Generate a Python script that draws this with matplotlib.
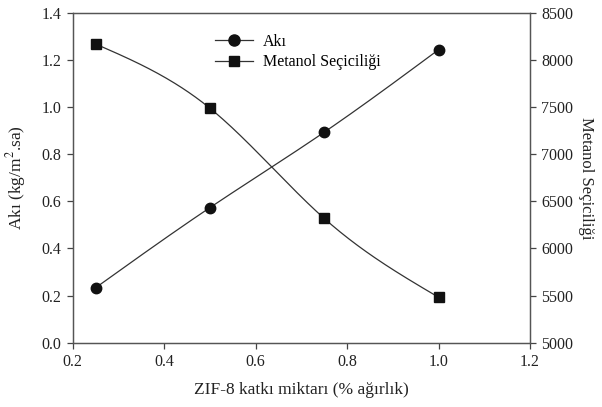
import numpy as np
import matplotlib
matplotlib.use("Agg")
from matplotlib import pyplot as plt
from matplotlib.lines import Line2D

plt.rcParams['font.family'] = ['Liberation Serif', 'DejaVu Serif']
plt.rcParams['mathtext.fontset'] = 'stix'

# ZIF-8 loading (% wt) and measured results
zif8 = [0.25, 0.50, 0.75, 1.00]
flux = [0.233, 0.573, 0.893, 1.243]
selectivity = [8168, 7487, 6318, 5482]


def smooth(x, y, n=200):
    # natural cubic spline through the measured points
    x = np.asarray(x, float)
    y = np.asarray(y, float)
    h = np.diff(x)
    m = len(x)
    A = np.zeros((m, m))
    b = np.zeros(m)
    A[0, 0] = A[-1, -1] = 1
    for i in range(1, m - 1):
        A[i, i - 1] = h[i - 1]
        A[i, i] = 2 * (h[i - 1] + h[i])
        A[i, i + 1] = h[i]
        b[i] = 6 * ((y[i + 1] - y[i]) / h[i] - (y[i] - y[i - 1]) / h[i - 1])
    M = np.linalg.solve(A, b)
    xs = np.linspace(x[0], x[-1], n)
    idx = np.clip(np.searchsorted(x, xs) - 1, 0, m - 2)
    x0, x1 = x[idx], x[idx + 1]
    hh = x1 - x0
    ys = (M[idx] * (x1 - xs) ** 3 / (6 * hh) + M[idx + 1] * (xs - x0) ** 3 / (6 * hh)
          + (y[idx] / hh - M[idx] * hh / 6) * (x1 - xs)
          + (y[idx + 1] / hh - M[idx + 1] * hh / 6) * (xs - x0))
    return xs, ys


fig = plt.figure(figsize=(6.02, 4.07), dpi=100)
ax = fig.add_axes([0.1208, 0.158, 0.7596, 0.8108])
ax2 = ax.twinx()

ink = '#111111'
xs, ys = smooth(zif8, flux)
ax.plot(xs, ys, color='#333333', lw=0.9)
ax.plot(zif8, flux, 'o', color=ink, ms=7.5, zorder=3)

xs, ys = smooth(zif8, selectivity)
ax2.plot(xs, ys, color='#333333', lw=0.9)
ax2.plot(zif8, selectivity, 's', color=ink, ms=7, zorder=3)

ax.set_xlim(0.2, 1.2)
ax.set_ylim(0.0, 1.4)
ax2.set_ylim(5000, 8500)
ax.set_xticks(np.arange(0.2, 1.21, 0.2))
ax.set_yticks(np.arange(0.0, 1.41, 0.2))
ax2.set_yticks(np.arange(5000, 8501, 500))
ax.xaxis.set_major_formatter(plt.FormatStrFormatter('%.1f'))
ax.yaxis.set_major_formatter(plt.FormatStrFormatter('%.1f'))

for a in (ax, ax2):
    for s in a.spines.values():
        s.set_color('#555555')
        s.set_linewidth(0.9)
    a.tick_params(direction='out', length=4, width=0.9, color='#444444',
                  labelsize=11.5, labelcolor='#222222', pad=4)

ax.set_xlabel('ZIF-8 katkı miktarı (% ağırlık)', fontsize=12.5, color='#222222', labelpad=9)
ax.set_ylabel('Akı (kg/m$^{2}$.sa)', fontsize=12.5, color='#222222', labelpad=10)
ax2.set_ylabel('Metanol Seçiciliği', fontsize=12, color='#222222', rotation=270, labelpad=15)

handles = [
    Line2D([], [], color='#333333', lw=0.9, marker='o', ms=8, mfc=ink, mec=ink),
    Line2D([], [], color='#333333', lw=0.9, marker='s', ms=7, mfc=ink, mec=ink),
]
ax.legend(handles, ['Akı', 'Metanol Seçiciliği'], loc='upper left',
          bbox_to_anchor=(0.28, 0.98), frameon=False, fontsize=11.5,
          handlelength=2.4, handletextpad=0.6, labelspacing=0.3)

fig.savefig('out.png', dpi=100)
